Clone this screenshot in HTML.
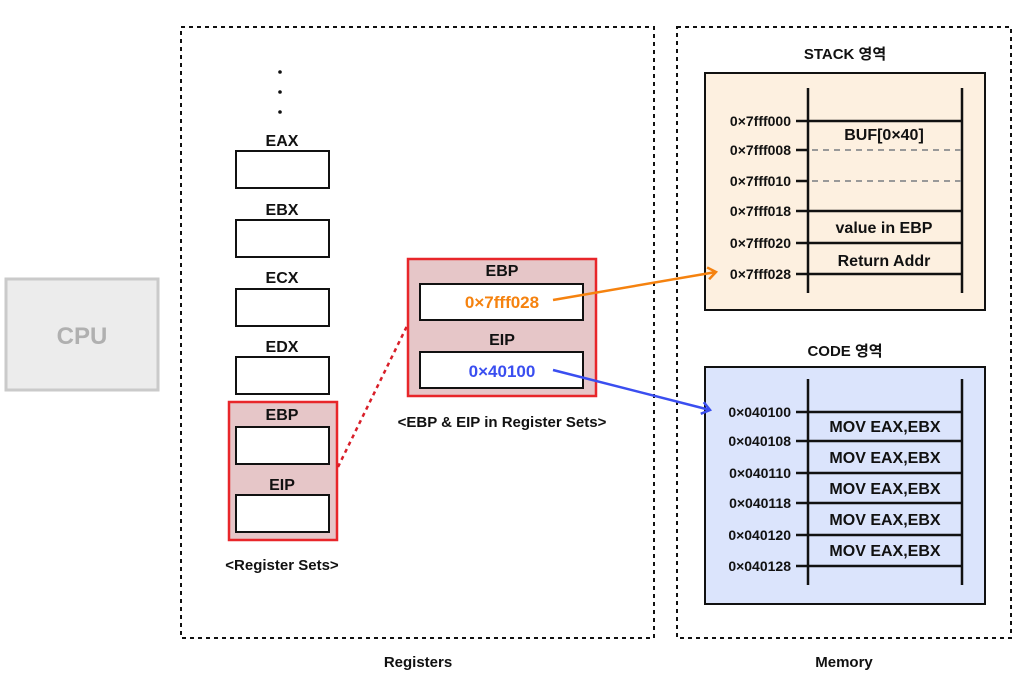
<!DOCTYPE html>
<html><head><meta charset="utf-8"><style>
html,body{margin:0;padding:0;background:#fff;width:1024px;height:678px;overflow:hidden}
text{font-family:"Liberation Sans","Noto Sans CJK KR",sans-serif;font-weight:bold}
</style></head><body>
<svg width="1024" height="678" viewBox="0 0 1024 678" xmlns="http://www.w3.org/2000/svg">
<defs>
<marker id="ao" markerWidth="12" markerHeight="14" refX="9" refY="7" orient="auto" markerUnits="userSpaceOnUse"><path d="M1,1 L9,7 L1,13" fill="none" stroke="#f5820f" stroke-width="2.5"/></marker>
<marker id="ab" markerWidth="12" markerHeight="14" refX="9" refY="7" orient="auto" markerUnits="userSpaceOnUse"><path d="M1,1 L9,7 L1,13" fill="none" stroke="#3a4ef0" stroke-width="2.5"/></marker>
</defs>
<!-- CPU -->
<rect x="6" y="279" width="152" height="111" fill="#ececec" stroke="#cacaca" stroke-width="3"/>
<text x="82" y="344" font-size="24" fill="#b0b0b0" text-anchor="middle">CPU</text>
<!-- dotted regions -->
<rect x="181" y="27" width="473" height="611" fill="none" stroke="#111" stroke-width="2" stroke-dasharray="4,4"/>
<rect x="677" y="27" width="334" height="611" fill="none" stroke="#111" stroke-width="2" stroke-dasharray="4,4"/>
<text x="418" y="667" font-size="15" text-anchor="middle" fill="#111">Registers</text>
<text x="844" y="667" font-size="15" text-anchor="middle" fill="#111">Memory</text>
<!-- dots -->
<circle cx="280" cy="72" r="1.8" fill="#111"/><circle cx="280" cy="92" r="1.8" fill="#111"/><circle cx="280" cy="112" r="1.8" fill="#111"/>
<g font-size="16" text-anchor="middle" fill="#111">
<text x="282" y="146">EAX</text><text x="282" y="215">EBX</text><text x="282" y="283">ECX</text><text x="282" y="352">EDX</text>
</g>
<g fill="#fff" stroke="#111" stroke-width="2">
<rect x="236" y="151" width="93" height="37"/><rect x="236" y="220" width="93" height="37"/>
<rect x="236" y="289" width="93" height="37"/><rect x="236" y="357" width="93" height="37"/>
</g>
<rect x="229" y="402" width="108" height="138" fill="#e6c6c8" stroke="#e8262a" stroke-width="2.5"/>
<text x="282" y="420" font-size="16" text-anchor="middle" fill="#111">EBP</text>
<rect x="236" y="427" width="93" height="37" fill="#fff" stroke="#111" stroke-width="2"/>
<text x="282" y="490" font-size="16" text-anchor="middle" fill="#111">EIP</text>
<rect x="236" y="495" width="93" height="37" fill="#fff" stroke="#111" stroke-width="2"/>
<text x="282" y="570" font-size="15" text-anchor="middle" fill="#111">&lt;Register Sets&gt;</text>
<line x1="338" y1="467" x2="407" y2="326" stroke="#d81e28" stroke-width="2.5" stroke-dasharray="4,4"/>
<!-- middle -->
<rect x="408" y="259" width="188" height="137" fill="#e6c6c8" stroke="#e8262a" stroke-width="2.5"/>
<text x="502" y="276" font-size="16" text-anchor="middle" fill="#111">EBP</text>
<rect x="420" y="284" width="163" height="36" fill="#fff" stroke="#111" stroke-width="2"/>
<text x="502" y="308" font-size="17" text-anchor="middle" fill="#f5820f">0×7fff028</text>
<text x="502" y="345" font-size="16" text-anchor="middle" fill="#111">EIP</text>
<rect x="420" y="352" width="163" height="36" fill="#fff" stroke="#111" stroke-width="2"/>
<text x="502" y="377" font-size="17" text-anchor="middle" fill="#3a4ef0">0×40100</text>
<text x="502" y="427" font-size="15" text-anchor="middle" fill="#111">&lt;EBP &amp; EIP in Register Sets&gt;</text>
<!-- STACK -->
<text x="845" y="59" font-size="15" text-anchor="middle" fill="#111">STACK 영역</text>
<rect x="705" y="73" width="280" height="237" fill="#fdf0e0" stroke="#111" stroke-width="2"/>
<g stroke="#111" stroke-width="2.5">
<line x1="808" y1="88" x2="808" y2="293"/><line x1="962" y1="88" x2="962" y2="293"/>
<line x1="796" y1="121" x2="962" y2="121"/><line x1="796" y1="211" x2="962" y2="211"/>
<line x1="796" y1="243" x2="962" y2="243"/><line x1="796" y1="274" x2="962" y2="274"/>
<line x1="796" y1="150" x2="808" y2="150"/><line x1="796" y1="181" x2="808" y2="181"/>
</g>
<g stroke="#999" stroke-width="2" stroke-dasharray="6,5">
<line x1="812" y1="150" x2="962" y2="150"/><line x1="812" y1="181" x2="962" y2="181"/>
</g>
<g font-size="14" text-anchor="end" fill="#111">
<text x="791" y="126">0×7fff000</text><text x="791" y="155">0×7fff008</text><text x="791" y="186">0×7fff010</text>
<text x="791" y="216">0×7fff018</text><text x="791" y="248">0×7fff020</text><text x="791" y="279">0×7fff028</text>
</g>
<g font-size="16" text-anchor="middle" fill="#111">
<text x="884" y="140">BUF[0×40]</text><text x="884" y="233">value in EBP</text><text x="884" y="266">Return Addr</text>
</g>
<!-- CODE -->
<text x="845" y="356" font-size="15" text-anchor="middle" fill="#111">CODE 영역</text>
<rect x="705" y="367" width="280" height="237" fill="#dbe4fc" stroke="#111" stroke-width="2"/>
<g stroke="#111" stroke-width="2.5">
<line x1="808" y1="379" x2="808" y2="585"/><line x1="962" y1="379" x2="962" y2="585"/>
<line x1="796" y1="412" x2="962" y2="412"/><line x1="796" y1="441" x2="962" y2="441"/>
<line x1="796" y1="473" x2="962" y2="473"/><line x1="796" y1="503" x2="962" y2="503"/>
<line x1="796" y1="535" x2="962" y2="535"/><line x1="796" y1="566" x2="962" y2="566"/>
</g>
<g font-size="14" text-anchor="end" fill="#111">
<text x="791" y="417">0×040100</text><text x="791" y="446">0×040108</text><text x="791" y="478">0×040110</text>
<text x="791" y="508">0×040118</text><text x="791" y="540">0×040120</text><text x="791" y="571">0×040128</text>
</g>
<g font-size="16" text-anchor="middle" fill="#111">
<text x="885" y="432">MOV EAX,EBX</text><text x="885" y="463">MOV EAX,EBX</text><text x="885" y="494">MOV EAX,EBX</text>
<text x="885" y="525">MOV EAX,EBX</text><text x="885" y="556">MOV EAX,EBX</text>
</g>
<!-- arrows (on top) -->
<line x1="553" y1="300" x2="716" y2="272" stroke="#f5820f" stroke-width="2.5" marker-end="url(#ao)"/>
<line x1="553" y1="370" x2="710" y2="410" stroke="#3a4ef0" stroke-width="2.5" marker-end="url(#ab)"/>
</svg>
</body></html>
